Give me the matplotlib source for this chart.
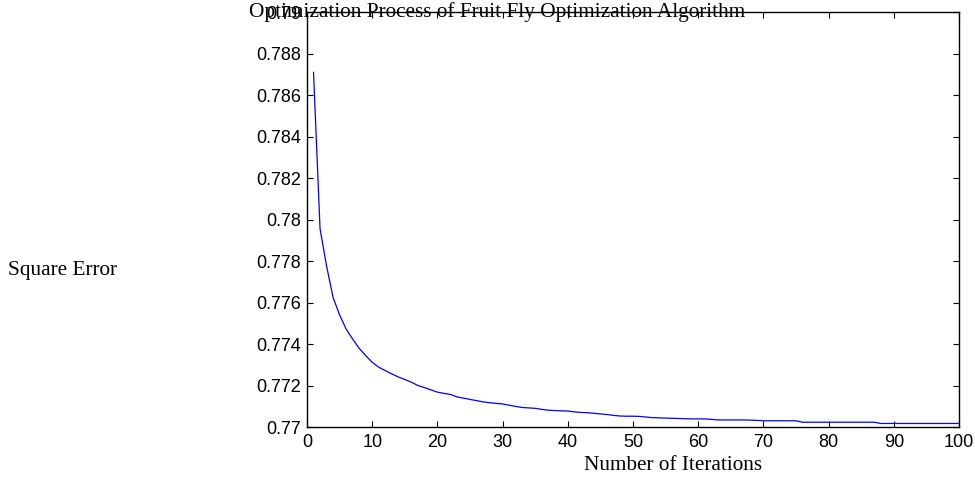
import matplotlib.pyplot as plt
import numpy as np

# best square error found at each iteration
iterations = list(range(1, 101))
square_error = [
    0.78709, 0.77955, 0.77776, 0.77624, 0.77540, 0.77472, 0.77424, 0.77379, 0.77344, 0.77312,
    0.77288, 0.77272, 0.77256, 0.77241, 0.77229, 0.77216, 0.77200, 0.77190, 0.77179, 0.77168,
    0.77162, 0.77157, 0.77145, 0.77139, 0.77133, 0.77127, 0.77121, 0.77117, 0.77114, 0.77111,
    0.77105, 0.77099, 0.77094, 0.77092, 0.77090, 0.77085, 0.77081, 0.77079, 0.77078, 0.77077,
    0.77073, 0.77070, 0.77069, 0.77066, 0.77063, 0.77060, 0.77056, 0.77053, 0.77052, 0.77052,
    0.77051, 0.77048, 0.77045, 0.77044, 0.77043, 0.77042, 0.77041, 0.77040, 0.77039, 0.77039,
    0.77039, 0.77037, 0.77034, 0.77034, 0.77034, 0.77034, 0.77034, 0.77033, 0.77032, 0.77030,
    0.77030, 0.77030, 0.77030, 0.77030, 0.77030, 0.77023, 0.77023, 0.77023, 0.77023, 0.77023,
    0.77023, 0.77023, 0.77023, 0.77023, 0.77023, 0.77023, 0.77023, 0.77017, 0.77017, 0.77017,
    0.77017, 0.77017, 0.77017, 0.77017, 0.77017, 0.77017, 0.77017, 0.77017, 0.77017, 0.77017,
]
yticks = [0.77, 0.772, 0.774, 0.776, 0.778, 0.78, 0.782, 0.784, 0.786, 0.788, 0.79]
ytick_labels = ['0.77', '0.772', '0.774', '0.776', '0.778', '0.78',
                '0.782', '0.784', '0.786', '0.788', '0.79']
xticks = list(range(0, 101, 10))

fig = plt.figure(figsize=(9.75, 4.78), dpi=100)
ax = fig.add_axes([307 / 975, 51 / 478, 652 / 975, 415 / 478])

ax.plot(iterations, square_error, color='#0000ff', linewidth=0.9)

ax.set_xlim(0, 100)
ax.set_ylim(0.77, 0.79)
ax.set_xticks(xticks)
ax.set_yticks(yticks)
ax.set_yticklabels(ytick_labels)
ax.tick_params(direction='in', top=True, right=True, length=4.3, width=0.8,
               labelsize=13)
ax.tick_params(axis='y', pad=4)
ax.tick_params(axis='x', pad=5)
for lbl in ax.get_xticklabels() + ax.get_yticklabels():
    lbl.set_family('Liberation Sans')
for s in ax.spines.values():
    s.set_linewidth(1.0)

serif = 'Liberation Serif'
fig.text(249 / 975, 1 - 12 / 478, 'Optimization Process of Fruit Fly Optimization Algorithm',
         ha='left', va='center', family=serif, fontsize=15.3)
fig.text(584 / 975, 1 - 466 / 478, 'Number of Iterations', ha='left', va='center',
         family=serif, fontsize=15.3)
fig.text(8 / 975, 1 - 270 / 478, 'Square Error', ha='left', va='center',
         family=serif, fontsize=15.3)

fig.savefig('out.png', dpi=100)
